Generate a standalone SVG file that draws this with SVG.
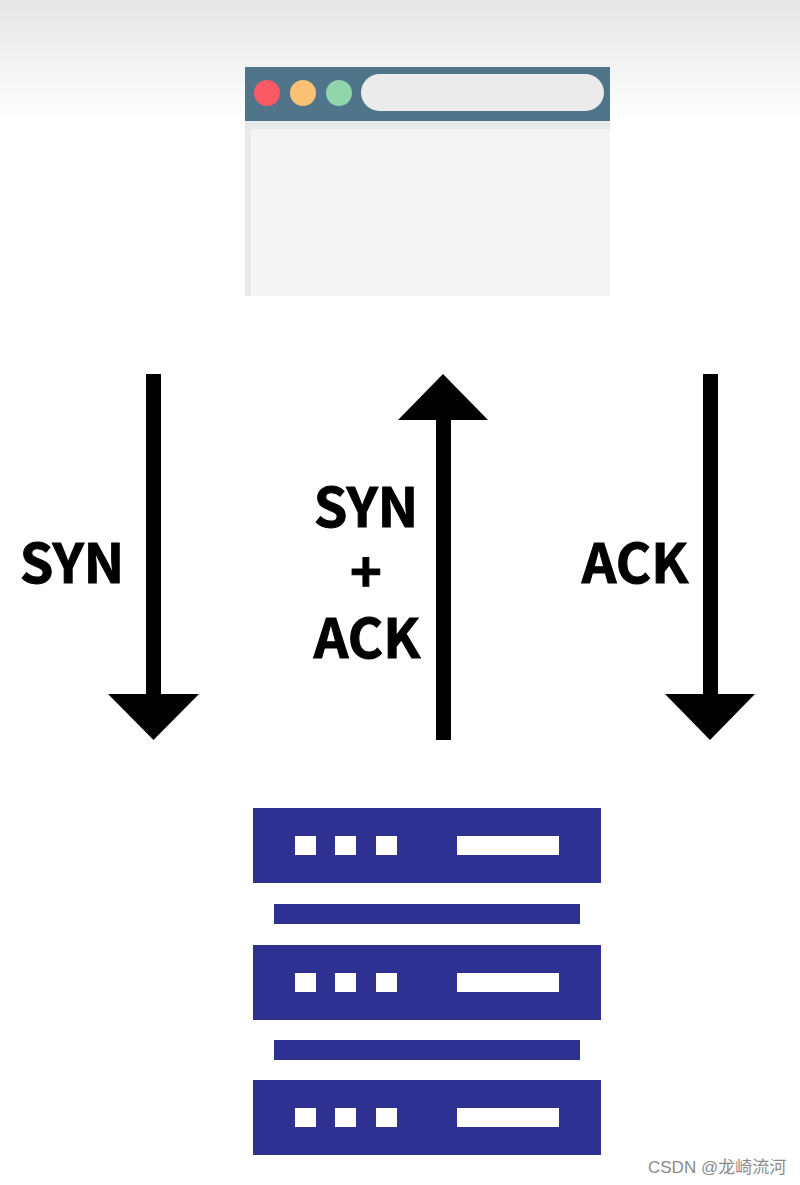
<svg xmlns="http://www.w3.org/2000/svg" width="800" height="1185" viewBox="0 0 800 1185">
<style>
.lbl{font-family:"Noto Sans CJK SC","Noto Sans",sans-serif;font-weight:700;font-size:54px;fill:#000;stroke:#000;stroke-width:1;text-anchor:middle}
.srv{fill:#2e3192}
.led{fill:#fff}
.wm{font-family:"Liberation Sans","Noto Sans CJK SC",sans-serif;font-size:17px;fill:#8a8a8a}
</style>
<defs>
<linearGradient id="top" x1="0" y1="0" x2="0" y2="1"><stop offset="0" stop-color="#e6e6e6"/><stop offset="1" stop-color="#ffffff"/></linearGradient>
<g id="unit"><rect class="srv" x="253" y="0" width="348" height="75"/><rect class="led" x="295" y="28" width="21" height="19"/><rect class="led" x="335" y="28" width="21" height="19"/><rect class="led" x="376" y="28" width="21" height="19"/><rect class="led" x="457" y="28" width="102" height="19"/></g>
</defs>
<rect width="800" height="1185" fill="#fff"/>
<rect width="800" height="124" fill="url(#top)"/>
<g id="browser">
<rect x="245" y="122" width="365" height="174" fill="#f4f4f4"/>
<rect x="245" y="121" width="365" height="8" fill="#e8e9ea"/>
<rect x="245" y="122" width="6" height="174" fill="#e8e9ea"/>
<rect x="245" y="67" width="365" height="54" fill="#50748a"/>
<circle cx="267" cy="93" r="13" fill="#fb5a64"/>
<circle cx="303" cy="93" r="13" fill="#fbc174"/>
<circle cx="339" cy="93" r="13" fill="#8fd6ab"/>
<rect x="361" y="74" width="243" height="37" rx="18.5" fill="#ebebeb"/>
</g>
<g id="connectors">
<g id="syn-arrow"><rect x="146" y="374" width="15" height="322"/><polygon points="108,694 199,694 153.500,740"/></g>
<g id="synack-arrow"><rect x="436" y="418" width="15" height="322"/><polygon points="398,420 488,420 443,374"/></g>
<g id="ack-arrow"><rect x="703" y="374" width="15" height="322"/><polygon points="665,694 755,694 710,740"/></g>
</g>
<g id="labels">
<text class="lbl" x="72" y="583">SYN</text>
<text class="lbl" x="366" y="527">SYN</text>
<text class="lbl" x="366" y="592">+</text>
<text class="lbl" x="367" y="658">ACK</text>
<text class="lbl" x="635" y="583">ACK</text>
</g>
<g id="server">
<use href="#unit" y="808"/>
<rect class="srv" x="274" y="904" width="306" height="20"/>
<use href="#unit" y="945"/>
<rect class="srv" x="274" y="1040" width="306" height="20"/>
<use href="#unit" y="1080"/>
</g>
<text class="wm" x="648" y="1173">CSDN @龙崎流河</text>
</svg>
